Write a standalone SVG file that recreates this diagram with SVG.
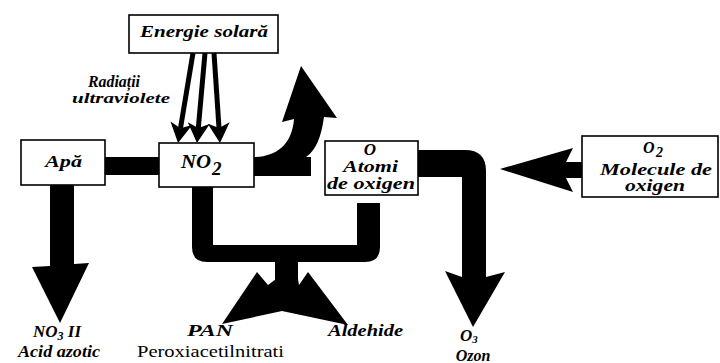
<svg xmlns="http://www.w3.org/2000/svg" width="720" height="363" viewBox="0 0 720 363">
<style>
.box{fill:#fff;stroke:#000;stroke-width:1.6}
.t{font-family:'Liberation Serif','DejaVu Serif',serif;font-weight:bold;font-style:italic;fill:#000}
.r{font-family:'Liberation Serif','DejaVu Serif',serif;fill:#000}
.fill{fill:#000;stroke:none}
.ray{stroke:#000;stroke-width:5;fill:none}
</style>
<defs>
<marker id="ah" viewBox="0 0 20 22" refX="5" refY="11" markerWidth="20" markerHeight="22" markerUnits="userSpaceOnUse" orient="auto">
<path d="M0,0 L20,11 L0,22 L5,11 Z" fill="#000"/>
</marker>
</defs>
<rect width="720" height="363" fill="#fff"/>

<g id="connectors">
<line class="ray" x1="193" y1="53" x2="180.5" y2="128.2" marker-end="url(#ah)"/>
<line class="ray" x1="205" y1="53" x2="198.3" y2="128.1" marker-end="url(#ah)"/>
<line class="ray" x1="214" y1="53" x2="219" y2="128" marker-end="url(#ah)"/>
<rect class="fill" x="104" y="157" width="56" height="18"/>
<path class="fill" d="M50,184 L74,184 L74,264 L89,263 L60,323 L32,267 L50,266 Z"/>
<path class="fill" d="M253,157 L256,157 C276,156 292,145 294,119 L282,122 L301,66 L337,118 L324,117 C321,138 316,150 306,157 L311,157 L311,176 L253,176 Z"/>
<path class="fill" d="M192,186 L213,186 L213,245 L357,245 L357,203 L380,203 L380,247 Q380,262 365,262 L207,262 Q192,262 192,247 Z"/>
<rect class="fill" x="275" y="260" width="23" height="21"/>
<path class="fill" d="M222,324 L257,272 L268,285 L276,279 L298,279 L299,285 L308,272 L348,325 L282,311 Z"/>
<path class="fill" d="M417,150 L465,150 Q486,150 486,171 L486,277 L505,272 L473,327 L445,271 L462,277 L462,177 L417,177 Z"/>
<path class="fill" d="M500,169 L573,148 L566,162 L583,162 L583,178 L566,178 L573,192 Z"/>
</g>

<g id="energie">
<rect class="box" x="129" y="15" width="149" height="38"/>
<text class="t" x="140" y="37" font-size="17" textLength="128" lengthAdjust="spacingAndGlyphs">Energie solară</text>
</g>

<g id="radiatii">
<text class="t" x="88" y="87" font-size="16" textLength="52" lengthAdjust="spacingAndGlyphs">Radiații</text>
<text class="t" x="72" y="103" font-size="15" textLength="98" lengthAdjust="spacingAndGlyphs">ultraviolete</text>
</g>

<g id="apa">
<rect class="box" x="21" y="140" width="84" height="45"/>
<text class="t" x="45" y="167" font-size="16" textLength="37" lengthAdjust="spacingAndGlyphs">Apă</text>
</g>

<g id="no2">
<rect class="box" x="159" y="143" width="95" height="44"/>
<text class="t" x="181" y="168" font-size="19" textLength="30" lengthAdjust="spacingAndGlyphs">NO</text>
<text class="t" x="212" y="175" font-size="19">2</text>
</g>

<g id="atomi">
<rect class="box" x="325" y="141" width="93" height="54"/>
<text class="t" x="370" y="155" font-size="17" text-anchor="middle">O</text>
<text class="t" x="343" y="172" font-size="16" textLength="55" lengthAdjust="spacingAndGlyphs">Atomi</text>
<text class="t" x="327" y="189" font-size="16" textLength="88" lengthAdjust="spacingAndGlyphs">de oxigen</text>
</g>

<g id="molecule">
<rect class="box" x="582" y="136" width="136" height="61"/>
<text class="t" x="643" y="153" font-size="16">O</text>
<text class="t" x="656" y="157" font-size="14">2</text>
<text class="t" x="600" y="175" font-size="16" textLength="112" lengthAdjust="spacingAndGlyphs">Molecule de</text>
<text class="t" x="625" y="191" font-size="16" textLength="60" lengthAdjust="spacingAndGlyphs">oxigen</text>
</g>

<g id="acid">
<text class="t" x="33" y="337" font-size="17">NO<tspan font-size="12" dy="3">3</tspan><tspan dy="-3"> II</tspan></text>
<text class="t" x="18" y="357" font-size="16" textLength="82" lengthAdjust="spacingAndGlyphs">Acid azotic</text>
</g>

<g id="pan">
<text class="t" x="187" y="336" font-size="17" textLength="46" lengthAdjust="spacingAndGlyphs">PAN</text>
<text class="r" x="137" y="357" font-size="17" textLength="147" lengthAdjust="spacingAndGlyphs">Peroxiacetilnitrati</text>
</g>

<g id="aldehide">
<text class="t" x="328" y="336" font-size="16" textLength="75" lengthAdjust="spacingAndGlyphs">Aldehide</text>
</g>

<g id="ozon">
<text class="t" x="460" y="341" font-size="17">O<tspan font-size="11" dy="2">3</tspan></text>
<text class="t" x="473" y="361" font-size="16" text-anchor="middle">Ozon</text>
</g>
</svg>
